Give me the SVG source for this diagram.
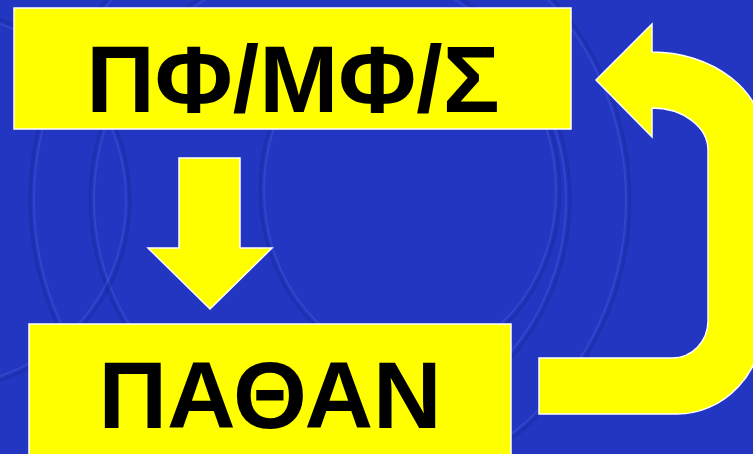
<svg xmlns="http://www.w3.org/2000/svg" width="753" height="454" viewBox="0 0 753 454">
  <defs>
    <style>
      .box { fill: #ffff00; stroke: #ffffff; stroke-width: 1.5; }
      .arrow { fill: #ffff00; stroke: #ffffff; stroke-width: 1.5; stroke-linejoin: miter; }
      .label { font-family: "Liberation Sans", Arial, sans-serif; font-weight: bold; font-size: 95px; fill: #000000; text-anchor: middle; }
      .ring-dark { fill: none; stroke: #18289a; stroke-opacity: 0.45; stroke-width: 3; }
      .ring-light { fill: none; stroke: #4a5ee0; stroke-opacity: 0.35; stroke-width: 2; }
    </style>
  </defs>

  <!-- background with faint embossed rings -->
  <rect x="0" y="0" width="753" height="454" fill="#2336c2"/>
  <g id="texture">
    <circle class="ring-dark" cx="330" cy="200" r="300"/>
    <circle class="ring-light" cx="330" cy="200" r="296"/>
    <circle class="ring-dark" cx="330" cy="200" r="240"/>
    <circle class="ring-light" cx="330" cy="200" r="236"/>
    <ellipse class="ring-dark" cx="410" cy="190" rx="150" ry="175"/>
    <ellipse class="ring-light" cx="410" cy="190" rx="146" ry="171"/>
    <circle class="ring-dark" cx="-60" cy="200" r="190"/>
    <circle class="ring-light" cx="-60" cy="200" r="186"/>
  </g>

  <g id="node-pf">
    <rect class="box" x="14" y="8" width="557" height="121"/>
    <text class="label" x="293" y="112">ΠΦ/ΜΦ/Σ</text>
  </g>

  <g id="node-pathan">
    <rect class="box" x="29" y="324" width="482" height="140"/>
    <text class="label" x="270" y="428">ΠΑΘΑΝ</text>
  </g>

  <g id="connectors">
    <!-- downward arrow from ΠΦ/ΜΦ/Σ to ΠΑΘΑΝ -->
    <polygon class="arrow" points="179,158 240,158 240,248 272,248 210,309 148,248 179,248"/>
    <!-- return arrow from ΠΑΘΑΝ back up to ΠΦ/ΜΦ/Σ -->
    <path class="arrow" d="M596,80 L652,24 L652,52 A112,88 0 0 1 764,140 L764,320 A87,94 0 0 1 677,414 L539,414 L539,358 L672,358 A36,37 0 0 0 708,321 L708,150 A56,42 0 0 0 652,108 L652,137 Z"/>
  </g>
</svg>
